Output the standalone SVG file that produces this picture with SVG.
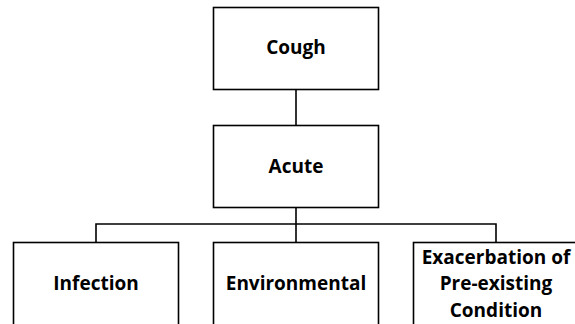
<svg xmlns="http://www.w3.org/2000/svg" width="575" height="324" viewBox="0 0 575 324">
<style>
.box{fill:#fff;stroke:#000;stroke-width:1.6}
.lbl{font-family:"Open Sans","Liberation Sans",sans-serif;font-weight:bold;font-size:19px;text-anchor:middle;fill:#000}
.conn{fill:none;stroke:#000;stroke-width:1.6}
</style>
<rect width="575" height="324" fill="#fff"/>
<g id="connectors">
<line class="conn" x1="296" y1="89" x2="296" y2="125"/>
<line class="conn" x1="296" y1="207" x2="296" y2="242"/>
<polyline class="conn" points="96,242 96,224 496,224 496,242"/>
</g>
<g id="cough"><rect class="box" x="213.5" y="7.5" width="165" height="82"/><text class="lbl" x="296" y="54">Cough</text></g>
<g id="acute"><rect class="box" x="213.5" y="125.5" width="165" height="82"/><text class="lbl" x="296" y="173">Acute</text></g>
<g id="infection"><rect class="box" x="13.5" y="242.5" width="165" height="90"/><text class="lbl" x="96" y="290">Infection</text></g>
<g id="environmental"><rect class="box" x="213.5" y="242.5" width="165" height="90"/><text class="lbl" x="296" y="290">Environmental</text></g>
<g id="exacerbation"><rect class="box" x="413.5" y="242.5" width="166" height="90"/><text class="lbl" x="496" y="264">Exacerbation of</text><text class="lbl" x="496" y="290">Pre-existing</text><text class="lbl" x="496" y="317">Condition</text></g>
</svg>
